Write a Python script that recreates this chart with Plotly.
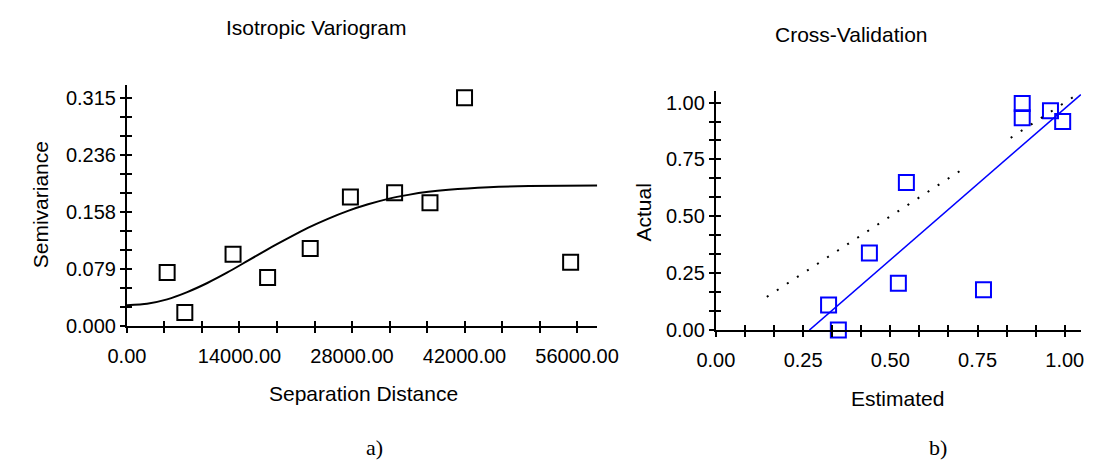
import plotly.graph_objects as go

# ---------------- data: Isotropic variogram ----------------
lag_dist = [5000, 7200, 13200, 17500, 22800, 27800, 33300, 37700, 42000, 55200]
lag_semiv = [0.074, 0.019, 0.099, 0.067, 0.107, 0.178, 0.184, 0.170, 0.315, 0.088]

# fitted model curve
model_dist = [0, 2500, 5000, 7500, 10000, 12500, 15000, 17500, 20000, 22500,
              25000, 27500, 30000, 32500, 35000, 37500, 40000, 45000, 50000, 58500]
model_semiv = [0.029, 0.031, 0.037, 0.047, 0.0595, 0.074, 0.090, 0.106, 0.121, 0.1355,
               0.148, 0.159, 0.168, 0.1755, 0.181, 0.1852, 0.188, 0.1915, 0.1932, 0.194]

vario_ticks = [0, 4666.67, 9333.33, 14000, 18666.67, 23333.33, 28000, 32666.67,
               37333.33, 42000, 46666.67, 51333.33, 56000]
vario_ticktext = ["0.00", "", "", "14000.00", "", "", "28000.00", "", "",
                  "42000.00", "", "", "56000.00"]
semiv_ticks = [0, 0.02625, 0.0525, 0.07875, 0.105, 0.13125, 0.1575, 0.18375,
               0.21, 0.23625, 0.2625, 0.28875, 0.315]
semiv_ticktext = ["0.000", "", "", "0.079", "", "", "0.158", "", "",
                  "0.236", "", "", "0.315"]

# ---------------- data: Cross-validation ----------------
estimated = [0.323, 0.351, 0.440, 0.523, 0.546, 0.767, 0.878, 0.878, 0.959, 0.994]
actual = [0.110, 0.000, 0.339, 0.206, 0.649, 0.177, 0.996, 0.933, 0.964, 0.917]

regr_est = [0.268, 1.046]
regr_act = [0.000, 1.035]

one2one_est = [0.146, 0.701, None, 0.845, 1.040]
one2one_act = [0.146, 0.701, None, 0.845, 1.040]

cv_ticks = [i / 12 for i in range(13)]
cv_ticktext = ["0.00", "", "", "0.25", "", "", "0.50", "", "", "0.75", "", "", "1.00"]

W, H = 1107, 470
FONT = "Liberation Sans, Arial, sans-serif"
TICKFONT = dict(family=FONT, size=20, color="black")


def px_x(p):
    return p / W


def px_y(p):
    return 1 - p / H


fig = go.Figure()

# variogram points
fig.add_trace(go.Scatter(
    x=lag_dist, y=lag_semiv, mode="markers", xaxis="x", yaxis="y", cliponaxis=False,
    marker=dict(symbol="square-open", size=15, color="black", line=dict(width=2, color="black")),
    showlegend=False, hoverinfo="x+y"))
# variogram model (on overlay axes that carry the inward half of the ticks)
fig.add_trace(go.Scatter(
    x=model_dist, y=model_semiv, mode="lines", xaxis="x3", yaxis="y3",
    line=dict(color="black", width=2, shape="spline", smoothing=0.6), showlegend=False))

# cross-validation points
fig.add_trace(go.Scatter(
    x=estimated, y=actual, mode="markers", xaxis="x2", yaxis="y2", cliponaxis=False,
    marker=dict(symbol="square-open", size=15, color="#0000ff", line=dict(width=2, color="#0000ff")),
    showlegend=False))
# 1:1 dotted line
fig.add_trace(go.Scatter(
    x=one2one_est, y=one2one_act, mode="lines", xaxis="x2", yaxis="y2",
    line=dict(color="black", width=2, dash="2px,10px"), showlegend=False, connectgaps=False))
# regression line
fig.add_trace(go.Scatter(
    x=regr_est, y=regr_act, mode="lines", xaxis="x4", yaxis="y4",
    line=dict(color="#0000ff", width=1.5), showlegend=False))

left_dom_x = [px_x(112), px_x(600)]
left_dom_y = [px_y(334), px_y(87)]
right_dom_x = [px_x(723), px_x(1102)]
right_dom_y = [px_y(338), px_y(93)]

vx_range = [0, 58520]
vy_range = [0, 0.3325]
cx_range = [0, 1.047]
cy_range = [0, 1.0515]

base = dict(showgrid=False, zeroline=False, tickfont=TICKFONT, tickcolor="black",
            ticklen=5, tickwidth=2, fixedrange=True)

main_line = dict(showline=True, linecolor="black", linewidth=2, ticks="outside")
over = dict(showline=False, ticks="inside", showticklabels=False)

fig.update_layout(
    width=W, height=H, margin=dict(l=0, r=0, t=0, b=0),
    paper_bgcolor="white", plot_bgcolor="white", showlegend=False,
    xaxis=dict(domain=left_dom_x, anchor="y", range=vx_range, tickmode="array",
               tickvals=vario_ticks, ticktext=vario_ticktext, ticklabelstandoff=6,
               **main_line, **base),
    yaxis=dict(domain=left_dom_y, anchor="x", range=vy_range, tickmode="array",
               tickvals=semiv_ticks, ticktext=semiv_ticktext, ticklabelstandoff=0,
               **main_line, **base),
    xaxis3=dict(overlaying="x", anchor="y3", side="bottom", range=vx_range, tickmode="array",
                tickvals=vario_ticks, **over, **base),
    yaxis3=dict(overlaying="y", anchor="x3", side="left", range=vy_range, tickmode="array",
                tickvals=semiv_ticks, **over, **base),
    xaxis2=dict(domain=right_dom_x, anchor="y2", range=cx_range, tickmode="array",
                tickvals=cv_ticks, ticktext=cv_ticktext, ticklabelstandoff=6,
                **main_line, **base),
    yaxis2=dict(domain=right_dom_y, anchor="x2", range=cy_range, tickmode="array",
                tickvals=cv_ticks, ticktext=cv_ticktext, ticklabelstandoff=0,
                **main_line, **base),
    xaxis4=dict(overlaying="x2", anchor="y4", side="bottom", range=cx_range, tickmode="array",
                tickvals=cv_ticks, **over, **base),
    yaxis4=dict(overlaying="y2", anchor="x4", side="left", range=cy_range, tickmode="array",
                tickvals=cv_ticks, **over, **base),
)

LBL = dict(family=FONT, size=21, color="black")
SERIF = dict(family="Liberation Serif, Times New Roman, serif", size=22, color="black")
annots = [
    ("Isotropic Variogram", 309, 28, 0, LBL),
    ("Cross-Validation", 864, 35, 0, LBL),
    ("Separation Distance", 357, 403, 0, LBL),
    ("Estimated", 911, 408, 0, LBL),
    ("Semivariance", 22, 210, -90, LBL),
    ("Actual", 648, 218, -90, LBL),
    ("a)", 369, 458, 0, SERIF),
    ("b)", 953, 458, 0, SERIF),
]
for text, x, y, ang, f in annots:
    fig.add_annotation(text=text, x=px_x(x), y=px_y(y), xref="paper", yref="paper",
                       xanchor="center", yanchor="middle", showarrow=False,
                       textangle=ang, font=f)

fig.write_html("out.html")
